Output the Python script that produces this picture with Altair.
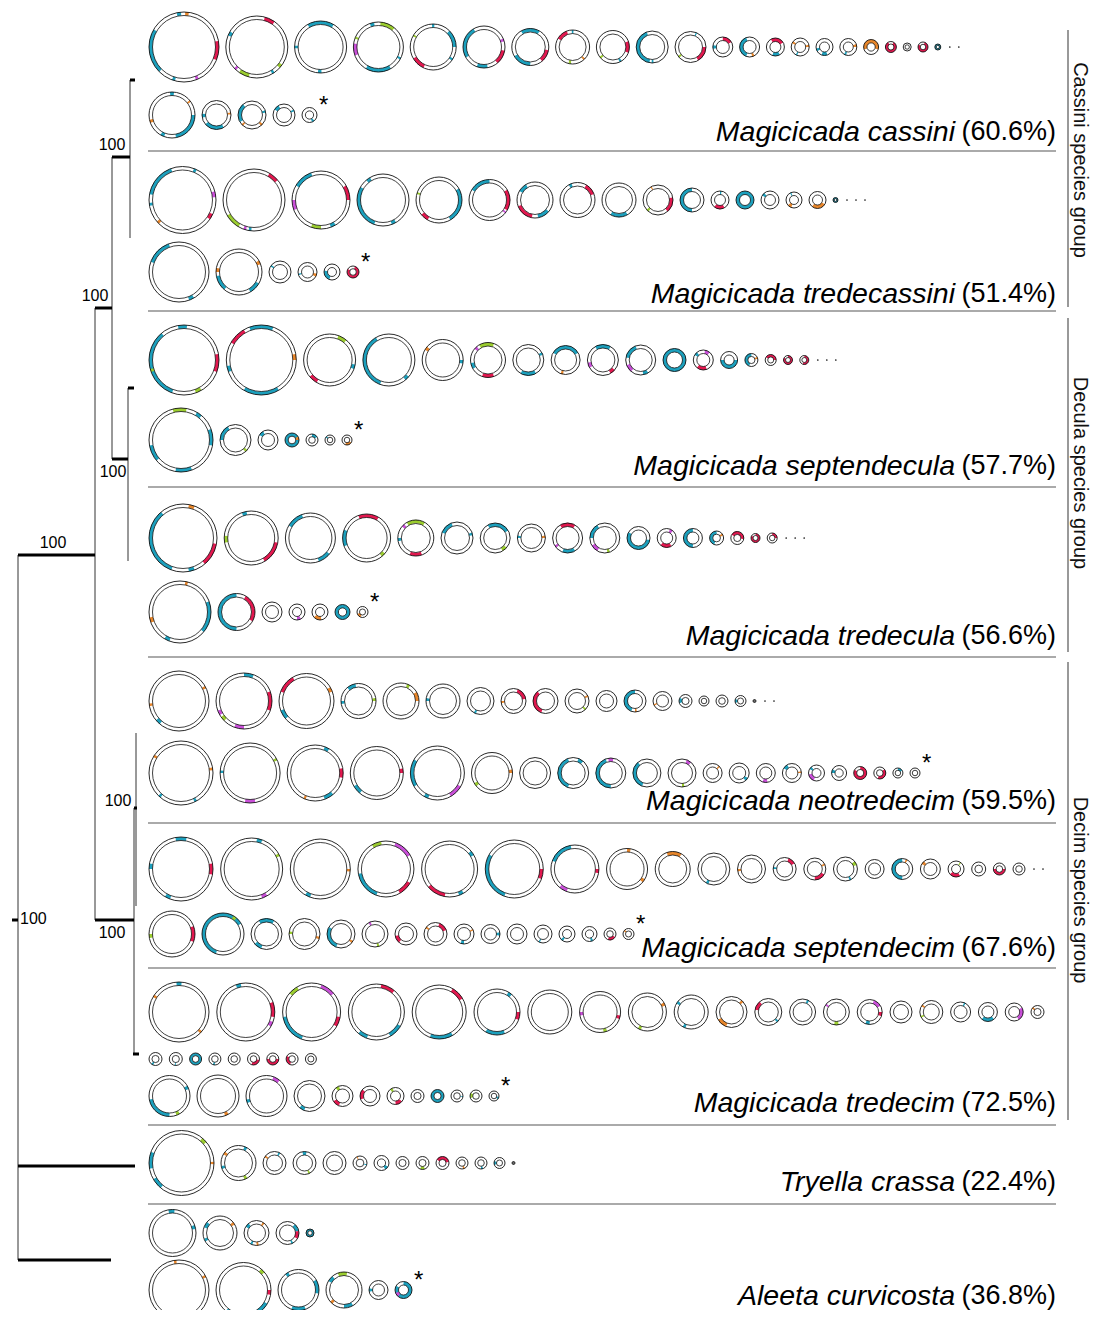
import math
import altair as alt
import pandas as pd

FONT = "Liberation Sans"

# ---------------- data: circle diameters per row ----------------
CASSINI_1 = [70, 62, 52, 50, 46, 42, 37, 34, 33, 32, 31, 20, 20, 18, 18, 17, 17, 15, 11, 8, 10, 6]
CASSINI_2 = [46, 29, 28, 22, 15]
TREDECASSINI_1 = [67, 62, 58, 52, 46, 41, 36, 35, 34, 30, 24, 18, 18, 18, 16, 17, 5]
TREDECASSINI_2 = [60, 46, 22, 19, 16, 12]
SEPTENDECULA_1 = [70, 70, 52, 52, 41, 35, 31, 29, 31, 30, 23, 20, 17, 13, 11, 9, 9]
SEPTENDECULA_2 = [64, 31, 20, 14, 12, 10, 10]
TREDECULA_1 = [68, 54, 50, 48, 36, 32, 30, 28, 30, 30, 23, 19, 19, 14, 13, 9, 10]
TREDECULA_2 = [62, 37, 20, 16, 16, 15, 11]
NEOTREDECIM_1 = [60, 56, 55, 35, 36, 34, 27, 25, 25, 24, 21, 22, 19, 13, 10, 12, 11, 3]
NEOTREDECIM_2 = [64, 60, 56, 53, 54, 41, 31, 31, 30, 28, 28, 19, 20, 19, 19, 16, 15, 13, 12, 10, 10]
SEPTENDECIM_1 = [64, 62, 60, 56, 56, 58, 48, 41, 35, 32, 28, 23, 22, 24, 19, 21, 20, 16, 14, 12, 12]
SEPTENDECIM_2 = [46, 42, 31, 31, 28, 26, 22, 23, 20, 19, 20, 18, 16, 15, 12, 11]
TREDECIM_1 = [60, 58, 58, 56, 54, 46, 44, 41, 38, 34, 31, 27, 26, 26, 25, 22, 23, 20, 19, 18, 13]
TREDECIM_2 = [13, 13, 12, 12, 12, 12, 12, 12, 11]
TREDECIM_3 = [41, 42, 41, 31, 21, 20, 17, 13, 13, 12, 12, 10]
TRYELLA_1 = [65, 35, 23, 23, 23, 14, 15, 13, 13, 13, 12, 12, 11, 3]
ALEETA_1 = [47, 34, 25, 23, 8]
ALEETA_2 = [60, 55, 41, 36, 19, 17]

# coloured ring segments: per circle "colour start-end" (degrees, clockwise from top)
CASSINI_1_SEG = ["t225-300 t348-355 o2-8 r80-112 m155-160 t195-200",
                 "r15-35 t292-300 g195-215 g125-132 m222-227 t145-150",
                 "t330-30 t267-273 t178-186",
                 "g5-40 m250-278 t150-210 g290-295 t340-350 t115-120",
                 "t45-90 r205-240 g298-303 t357-3 t120-126",
                 "t240-330 m66-74 r100-140 t170-200",
                 "t330-30 t180-240 r100-140",
                 "r300-340 t357-3 g186-194 o133-140",
                 "r70-110 g226-234 t148-156",
                 "t190-340 t175-182", "r90-150 g226-234 t20-25", "r0-60 t260-280",
                 "t200-340 o150-165", "r330-60 t150-200", "o295-310 o75-90 t200-210",
                 "t240-260 t160-200", "o70-90 t195-210", "o250-110", "r30-330", "",
                 "r20-300", "t0-360"]
CASSINI_2_SEG = ["t90-170 t200-210 o250-258 t355-5 o50-55", "t150-230 t260-275 o80-88",
                 "t240-320 o130-140 o220-228 t70-80", "t300-330 t60-70", "t140-160"]
TREDECASSINI_1_SEG = ["t280-340 t20-25 m75-85 r115-125 o225-230 t260-265",
                      "r30-50 g210-240 m195-200 t185-190",
                      "t300-340 m250-270 g180-200 r60-90 t150-160",
                      "t200-300 t150-160 t320-330", "t60-150 g285-290 r210-230",
                      "t300-360 r60-120 m125-130", "t300-330 r190-250 t130-170",
                      "r30-70 t330-340", "t150-210", "r80-140 g220-230 o330-335",
                      "t180-360", "r150-220 t0-10", "t0-360", "t300-320",
                      "o200-230 t330-340", "o120-220", "t0-360"]
TREDECASSINI_2_SEG = ["t290-340 t150-160", "t220-260 o60-70 t120-150 o270-280",
                      "t300-310", "o100-120 t250-260", "t200-280", "r20-300"]
SEPTENDECULA_1_SEG = ["t200-320 t350-5 r80-110 g150-160 g250-255",
                      "r300-330 t340-20 o80-90 t150-210 t250-260",
                      "g20-40 t100-110 r210-230", "t200-330 t130-140", "o300-310 t90-100",
                      "g330-20 m310-320 r160-200 t240-260", "t150-210 t60-70",
                      "t300-60 o190-200", "t330-30 m240-260 r130-150",
                      "t280-340 m220-250 t150-170", "t0-360", "m10-40 r160-220 t300-320",
                      "t90-270", "t200-360 o60-80", "r300-90", "r0-300", "r0-200"]
SEPTENDECULA_2_SEG = ["g345-10 t30-40 t70-100 t230-260 t160-190", "t270-330 g130-140",
                      "t300-330", "t0-360 o60-90", "t0-60", "t300-320", "o120-200"]
TREDECULA_1_SEG = ["t200-320 o10-20 r100-140 t160-170", "t340-350 g260-275 r100-150",
                   "t300-340 t130-160", "r340-30 t250-290 g130-140",
                   "g330-30 m310-320 r160-200 t260-270", "t290-340 t70-80",
                   "t330-60 g130-150", "t270-280 o80-90", "r330-30 m230-240 t150-200",
                   "t270-330 m210-240 g160-170", "t100-300", "m20-40 r150-220",
                   "t180-360", "t200-360 o50-70", "r300-100", "r0-300", "r0-90"]
TREDECULA_2_SEG = ["o10-15 t70-130 o250-260 t200-210", "t180-360 r30-120", "",
                   "m150-180", "o170-230", "t0-360", "o200-250"]
NEOTREDECIM_1_SEG = ["o60-65 o260-265 t220-230", "t0-20 m240-250 g225-235 r70-110 m180-200",
                     "r290-330 o60-70 t230-250", "t320-350 g80-90 t260-270",
                     "o60-90 g20-30", "t270-280", "t200-210", "r20-80 o260-270",
                     "r200-320", "o60-70 g130-140", "", "t200-360 o170-180",
                     "o240-250", "t250-300", "", "", "t250-290", ""]
NEOTREDECIM_2_SEG = ["o300-305 o80-85 t220-225 t150-155", "g60-65 m170-190 t270-275",
                     "t20-30 r80-100 o200-205 t140-160", "r80-90 t220-240",
                     "t240-300 m120-150 t200-210", "o80-90 g230-240", "",
                     "t200-340 t20-40", "t180-340 m350-10", "t200-320", "m20-40 g170-180",
                     "o40-50", "t120-140", "m170-200", "t300-330 o80-90",
                     "m200-260 t300-320", "t270-300", "r0-300", "r50-200", "t0-60", ""]
SEPTENDECIM_1_SEG = ["t350-10 t270-280 r80-100 t200-210", "t10-20 g60-65 m150-160",
                     "o90-95 t200-210", "g330-350 m20-60 t200-260 r120-150",
                     "r190-230 t50-60 t150-160", "t200-300 r90-110",
                     "t290-350 m200-220 r90-100", "o0-10 o120-130", "o340-30",
                     "t200-210", "o260-270", "r20-60 t270-280", "r120-180 o60-70",
                     "g50-70 t150-160", "", "t180-360 o20-30", "o300-320",
                     "r150-230 g30-40", "", "r90-270", ""]
SEPTENDECIM_2_SEG = ["r70-110 g260-270", "t200-360 t0-60 g30-40", "t330-30 t200-230",
                     "g270-280 o100-110", "t200-300 o120-130", "m330-340 g160-170",
                     "r220-260", "r20-70 o300-310", "t180-200 o60-70", "t80-100", "",
                     "t200-210", "t210-230", "t150-170", "r120-200", "o300-320"]
TREDECIM_1_SEG = ["t355-5 o300-305 o130-135", "t340-350 r70-100 m110-120",
                  "g310-330 m20-50 t200-260 r100-120", "r10-40 t120-150 t200-220",
                  "r30-60 t150-200", "t30-40 r90-110 t160-210", "",
                  "m260-270 r100-110 g160-170", "o60-70 g200-210", "t300-310 t200-210",
                  "o200-240 o40-50", "r280-320 t130-140", "t20-30",
                  "m300-310 g170-190", "m20-60 r90-110 t180-200", "",
                  "o300-310 g240-250", "t20-30", "t140-220", "m60-150", "o300-320"]
TREDECIM_2_SEG = ["t200-220", "t180-190", "t0-360", "t180-200", "", "r100-200",
                  "r90-270", "r200-300", ""]
TREDECIM_3_SEG = ["t180-260 g150-160 t60-70", "o150-160", "m20-40 t250-260", "t200-220",
                  "g320-340 r200-240", "r250-310", "g320-340 r130-180", "", "t0-360",
                  "t90-100", "g250-300", "t100-130"]
TRYELLA_1_SEG = ["t260-290 g40-50 o88-92 t220-240", "o300-310 t20-30 t250-260 g150-160",
                 "t20-30 o300-310", "t350-10 g150-160", "", "o330-340 t100-110",
                 "t120-150", "", "g160-200", "r300-80", "o150-170", "t160-180",
                 "t250-290", ""]
ALEETA_1_SEG = ["t350-5 t70-80", "t290-310 o50-60 t240-250",
                "t300-320 o30-40 o170-180 t200-210", "t40-80 r80-120 t150-160", "t0-360"]
ALEETA_2_SEG = ["o350-355 o60-65 t210-220", "g40-50 r90-100 t120-220 g180-190",
                "t320-330 t60-100 t160-200", "g340-10 t300-320 o220-230 t150-180",
                "t260-280", "t0-300 m220-250"]

SPECIES = ["Magicicada cassini", "Magicicada tredecassini", "Magicicada septendecula",
           "Magicicada tredecula", "Magicicada neotredecim", "Magicicada septendecim",
           "Magicicada tredecim", "Tryella crassa", "Aleeta curvicosta"]
PERCENT = ["(60.6%)", "(51.4%)", "(57.7%)", "(56.6%)", "(59.5%)", "(67.6%)",
           "(72.5%)", "(22.4%)", "(36.8%)"]
GROUPS = ["Cassini species group", "Decula species group", "Decim species group"]
BOOTSTRAP = ["100"] * 7

# ---------------- layout (figure pixel coordinates) ----------------
X0 = 149
ROWS = [  # diameters, segments, row centre y, tail, gap between circles
    (CASSINI_1, CASSINI_1_SEG, 47, 2, 6.8), (CASSINI_2, CASSINI_2_SEG, 115, "*", 7),
    (TREDECASSINI_1, TREDECASSINI_1_SEG, 200, 3, 7), (TREDECASSINI_2, TREDECASSINI_2_SEG, 272, "*", 7),
    (SEPTENDECULA_1, SEPTENDECULA_1_SEG, 360, 3, 7.3), (SEPTENDECULA_2, SEPTENDECULA_2_SEG, 440, "*", 7),
    (TREDECULA_1, TREDECULA_1_SEG, 538, 3, 7.2), (TREDECULA_2, TREDECULA_2_SEG, 612, "*", 7),
    (NEOTREDECIM_1, NEOTREDECIM_1_SEG, 701, 2, 7), (NEOTREDECIM_2, NEOTREDECIM_2_SEG, 773, "*", 7.1),
    (SEPTENDECIM_1, SEPTENDECIM_1_SEG, 869, 2, 7.65), (SEPTENDECIM_2, SEPTENDECIM_2_SEG, 934, "*", 7),
    (TREDECIM_1, TREDECIM_1_SEG, 1012, 0, 7.8), (TREDECIM_2, TREDECIM_2_SEG, 1059, 0, 7.3),
    (TREDECIM_3, TREDECIM_3_SEG, 1096, "*", 7),
    (TRYELLA_1, TRYELLA_1_SEG, 1163, 0, 7),
    (ALEETA_1, ALEETA_1_SEG, 1233, 0, 7), (ALEETA_2, ALEETA_2_SEG, 1290, "*", 7),
]
LABEL_Y = [132, 294, 466, 636, 801, 948, 1103, 1182, 1296]
SEP_Y = [151, 311, 487, 657, 823, 968, 1125, 1204]
GROUP_SPANS = [(30, 307, 160), (318, 652, 473), (662, 1120, 890)]

COLORS = {"t": "#1ca0bd", "r": "#e2184f", "g": "#9bcd2f", "m": "#c94fd8", "o": "#e8862a"}

circles, arcs, dots, stars = [], [], [], []
for diam, segs, cy, tail, gap in ROWS:
    x = X0
    for d, seg in zip(diam, segs):
        cx = x + d / 2
        inner = d - 7 if d >= 16 else d * 0.55
        circles.append({"cx": cx, "cy": cy, "outer": d * d, "inner": inner * inner})
        for tok in seg.split():
            c = tok[0]
            a, b = [float(v) for v in tok[1:].split("-")]
            if b <= a:
                b += 360
            arcs.append({"cx": cx, "cy": cy, "t1": math.radians(a), "t2": math.radians(b),
                         "r1": inner / 2, "r2": d / 2, "col": COLORS[c]})
        x += d + gap
    end = x - gap
    if tail == "*":
        stars.append({"x": end + 2, "y": cy - 9, "t": "*"})
    elif tail:
        for k in range(tail):
            dots.append({"x": end + 9 + 9 * k, "y": cy})

W, H = 1083, 1302
xs = alt.Scale(domain=[8, 8 + W], nice=False, zero=False)
ys = alt.Scale(domain=[8, 8 + H], nice=False, zero=False, reverse=True)


def X(f="x"):
    return alt.X(f, type="quantitative", scale=xs, axis=None)


def Y(f="y"):
    return alt.Y(f, type="quantitative", scale=ys, axis=None)


arc_layer = alt.Chart(pd.DataFrame(arcs)).mark_arc(strokeWidth=0).encode(
    x=X("cx"), y=Y("cy"),
    theta=alt.Theta("t1:Q", scale=None, stack=False), theta2="t2:Q",
    radius=alt.Radius("r1:Q", scale=None), radius2="r2:Q",
    color=alt.Color("col:N", scale=None),
)
cdf = pd.DataFrame(circles)
outer_layer = alt.Chart(cdf).mark_point(shape="circle", filled=False, color="#111",
                                        strokeWidth=0.9, opacity=1).encode(
    x=X("cx"), y=Y("cy"), size=alt.Size("outer:Q", scale=None))
inner_layer = alt.Chart(cdf).mark_point(shape="circle", filled=False, color="#111",
                                        strokeWidth=0.8, opacity=1).encode(
    x=X("cx"), y=Y("cy"), size=alt.Size("inner:Q", scale=None))
dot_layer = alt.Chart(pd.DataFrame(dots)).mark_circle(size=3, color="#222", opacity=1).encode(
    x=X(), y=Y())
star_layer = alt.Chart(pd.DataFrame(stars)).mark_text(
    font=FONT, fontSize=24, align="left", baseline="middle", color="#000").encode(
    x=X(), y=Y(), text="t:N")

# labels
ldf = pd.DataFrame({"name": SPECIES, "pct": PERCENT, "y": LABEL_Y, "x": [1056] * 9})
pct_layer = alt.Chart(ldf).mark_text(font=FONT, fontSize=27, align="right",
                                     baseline="middle", color="#000").encode(
    x=X(), y=Y(), text="pct:N")
name_layer = alt.Chart(ldf).mark_text(font=FONT, fontSize=28.5, fontStyle="italic",
                                      align="right", baseline="middle", color="#000",
                                      dx=-101).encode(
    x=X(), y=Y(), text="name:N")

sep_layer = alt.Chart(pd.DataFrame({"y": SEP_Y, "x": [148] * 8, "x2": [1056] * 8})).mark_rule(
    color="#aaaaaa", strokeWidth=2).encode(x=X(), x2="x2:Q", y=Y())

gdf = pd.DataFrame({"g": GROUPS, "y1": [s[0] for s in GROUP_SPANS],
                    "y2": [s[1] for s in GROUP_SPANS], "ym": [s[2] for s in GROUP_SPANS],
                    "x": [1068] * 3, "xt": [1080] * 3})
gline_layer = alt.Chart(gdf).mark_rule(color="#777777", strokeWidth=1.5).encode(
    x=X(), y=Y("y1"), y2="y2:Q")
gtext_layer = alt.Chart(gdf).mark_text(font=FONT, fontSize=20, angle=90, align="center",
                                       baseline="middle", color="#111").encode(
    x=X("xt"), y=Y("ym"), text="g:N")

# tree (x = depth position, y = node height)
TREE_H = [  # thick horizontal branches: x1, x2, y
    (18, 95, 555), (18, 135, 1166), (18, 111, 1260), (95, 112, 308), (112, 130, 157),
    (112, 128, 459), (95, 134, 920), (134, 137, 808), (130, 135, 80), (128, 134, 388),
    (133, 139, 1054), (12, 18, 920),
]
TREE_V = [  # thin vertical connectors: x, y1, y2
    (18, 555, 1260), (95, 308, 920), (112, 157, 459), (130, 80, 238), (128, 388, 561),
    (136, 733, 906), (134, 808, 1054),
]
BOOT_POS = [(53, 543, "center"), (95, 296, "center"), (112, 145, "center"),
            (113, 472, "center"), (118, 801, "center"), (112, 933, "center"),
            (20, 919, "left")]

th = pd.DataFrame(TREE_H, columns=["x", "x2", "y"])
tv = pd.DataFrame(TREE_V, columns=["x", "y", "y2"])
th_layer = alt.Chart(th).mark_rule(color="#000", strokeWidth=3).encode(
    x=X(), x2="x2:Q", y=Y())
tv_layer = alt.Chart(tv).mark_rule(color="#333", strokeWidth=1).encode(
    x=X(), y=Y(), y2="y2:Q")
bdf = pd.DataFrame(BOOT_POS, columns=["x", "y", "al"])
bdf["t"] = BOOTSTRAP
boot_c = alt.Chart(bdf[bdf.al == "center"]).mark_text(
    font=FONT, fontSize=16, align="center", baseline="middle", color="#000").encode(
    x=X(), y=Y(), text="t:N")
boot_l = alt.Chart(bdf[bdf.al == "left"]).mark_text(
    font=FONT, fontSize=16, align="left", baseline="middle", color="#000").encode(
    x=X(), y=Y(), text="t:N")

chart = alt.layer(
    sep_layer, tv_layer, th_layer, boot_c, boot_l, arc_layer, outer_layer, inner_layer,
    dot_layer, star_layer, name_layer, pct_layer, gline_layer, gtext_layer,
).properties(
    width=W, height=H, padding=0, autosize=alt.AutoSizeParams(type="none"),
    background="white",
).configure_view(stroke=None)

chart.save("out.html", embed_options={"renderer": "svg", "actions": False})
